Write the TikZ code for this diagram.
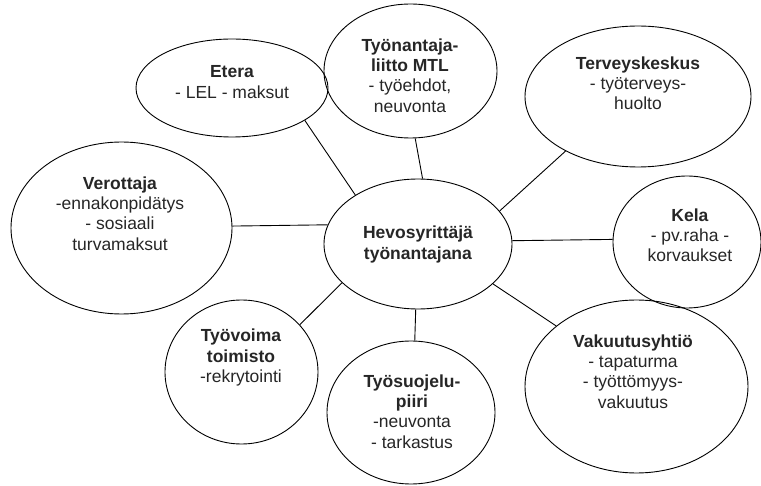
\documentclass[tikz,border=0pt]{standalone}
\usepackage{fontspec}
\setmainfont{Liberation Sans}
\usetikzlibrary{shapes,positioning}

\begin{document}
\begin{tikzpicture}[x=1pt, y=-1pt, line width=0.9pt, org node/.style={ellipse,draw,inner sep=0pt}, txt node/.style={align=center,text=black!85,inner sep=0pt,font=\fontsize{17.5}{20.2}\selectfont}]
\useasboundingbox (0,0) rectangle (761,486);
\begin{scope}[every node/.style={org node}]
\node[minimum width=188, minimum height=130] (hevo) at (418,244) {};
\node[minimum width=192, minimum height=98] (etera) at (232,88) {};
\node[minimum width=173, minimum height=134] (mtl) at (410.5,71) {};
\node[minimum width=226, minimum height=141] (terveys) at (638,96.5) {};
\node[minimum width=148, minimum height=132] (kela) at (687,242) {};
\node[minimum width=223, minimum height=173] (vakuutus) at (636.5,386.5) {};
\node[minimum width=168, minimum height=143] (suojelu) at (411,412.5) {};
\node[minimum width=153, minimum height=144] (tyovoima) at (241.5,372) {};
\node[minimum width=221, minimum height=172] (verottaja) at (121.5,228) {};
\end{scope}
\begin{scope}[every node/.style={txt node}]
\node (hevo-t) at (418,244.5) {\textbf{Hevosyrittäjä}\\\textbf{työnantajana}};
\node (etera-t) at (232,82) {\textbf{Etera}\\- LEL - maksut};
\node (mtl-t) at (410,75.5) {\textbf{Työnantaja-}\\\textbf{liitto MTL}\\- työehdot,\\neuvonta};
\node (terveys-t) at (638,83) {\textbf{Terveyskeskus}\\- työterveys-\\huolto};
\node (kela-t) at (690,235) {\textbf{Kela}\\- pv.raha -\\korvaukset};
\node (vakuutus-t) at (633,371.5) {\textbf{Vakuutusyhtiö}\\- tapaturma\\- työttömyys-\\vakuutus};
\node (suojelu-t) at (412,411.5) {\textbf{Työsuojelu-}\\\textbf{piiri}\\-neuvonta\\- tarkastus};
\node (tyovoima-t) at (241,357.5) {\textbf{Työvoima}\\\textbf{toimisto}\\-rekrytointi};
\node (verottaja-t) at (120,213.5) {\textbf{Verottaja}\\-ennakonpidätys\\- sosiaali\\turvamaksut};
\end{scope}
\begin{scope}
\draw (etera.-24) edge (hevo.142);
\draw (mtl.-86) edge (hevo.86);
\draw (terveys.-143) edge (hevo.22);
\draw (kela.178.5) edge (hevo.2.4);
\draw (vakuutus.143) edge (hevo.-28);
\draw (suojelu.87.6) edge (hevo.-92.7);
\draw (tyovoima.39) edge (hevo.-153);
\draw (verottaja.1.6) edge (hevo.168);
\end{scope}
\end{tikzpicture}
\end{document}
